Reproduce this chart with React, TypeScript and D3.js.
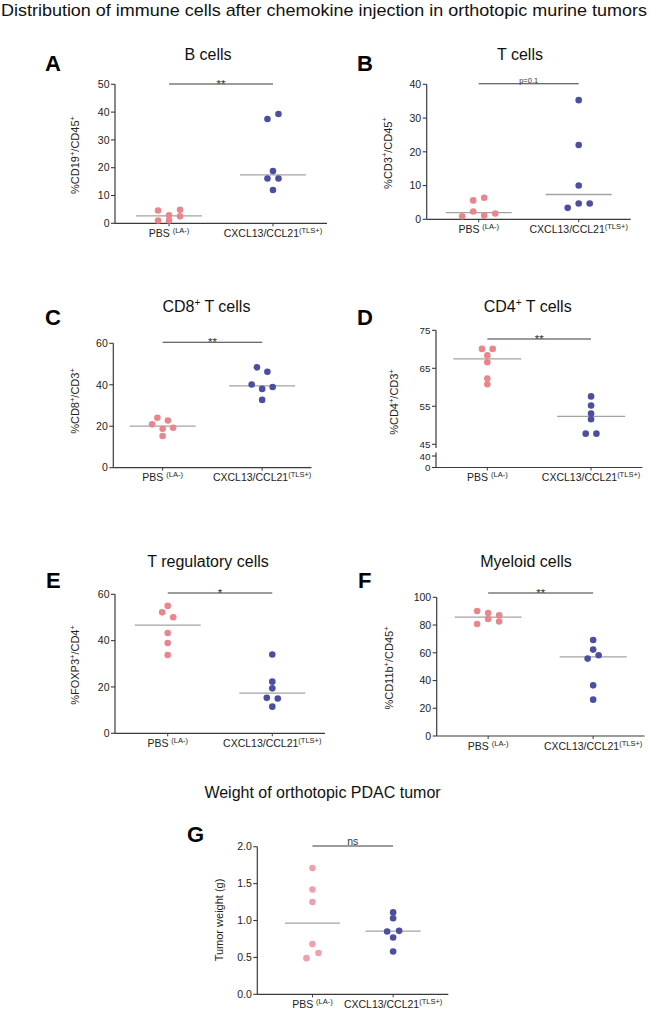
import React from "react";
import * as d3 from "d3";

// ---------- data ----------
const groups = ["PBS", "CXCL13/CCL21"];
const groupSup = ["(LA-)", "(TLS+)"];
const groupGap = [" ", ""];

const bCellsPBS = [4.6, 2.9, 4.9, 1.0, 1.0, 2.5];
const bCellsTLS = [37.5, 39.3, 18.8, 16.1, 16.1, 12.0];
const tCellsPBS = [5.6, 6.4, 0.9, 2.3, 1.1, 1.7];
const tCellsTLS = [35.3, 22.0, 10.0, 3.4, 4.7, 4.7];
const cd8PBS = [24.1, 22.8, 20.9, 18.8, 19.3, 15.3];
const cd8TLS = [48.4, 46.3, 40.1, 38.0, 38.9, 32.7];
const cd4PBS = [70.1, 70.1, 68.4, 66.6, 62.3, 60.8];
const cd4TLS = [57.6, 55.2, 53.1, 51.6, 47.8, 47.8];
const tregPBS = [55.0, 52.2, 50.1, 43.3, 39.0, 33.8];
const tregTLS = [34.0, 22.3, 19.4, 15.3, 15.0, 11.5];
const myeloidPBS = [90.1, 88.7, 87.0, 80.8, 84.4, 82.5];
const myeloidTLS = [69.2, 62.3, 55.8, 58.2, 36.5, 26.2];
const weightPBS = [1.71, 1.42, 1.25, 0.68, 0.49, 0.56];
const weightTLS = [1.11, 1.03, 0.85, 0.86, 0.77, 0.58];

const bTicks = [0, 10, 20, 30, 40, 50];
const tTicks = [0, 10, 20, 30, 40];
const cd8Ticks = [0, 20, 40, 60];
const cd4Ticks = [0, 40, 45, 55, 65, 75];
const tregTicks = [0, 20, 40, 60];
const myeloidTicks = [0, 20, 40, 60, 80, 100];
const weightTicks = [0, 0.5, 1.0, 1.5, 2.0];

const sigLabels = ["**", "p=0.1", "**", "**", "*", "**", "ns"];

const mainTitle = "Distribution of immune cells after chemokine injection in orthotopic murine tumors";
const weightTitle = "Weight of orthotopic PDAC tumor";

type Part = { t: string; sup?: boolean };

// ---------- layout ----------
const FONT = "'Liberation Sans', Arial, Helvetica, sans-serif";
const PINK = "#E8868C";
const PINK_LIGHT = "#EEA1AA";
const BLUE = "#4C4F9F";
const AXIS = "#3a3a3a";
const MEDIAN = "#a3a3a3";

type PanelCfg = {
  letter: string; letterX: number; letterY: number;
  title: Part[]; titleX: number; titleY: number;
  yLabel: Part[]; yLabelX: number; yLabelY: number;
  pbs: number[]; tls: number[]; ticks: number[]; fmt: (v: number) => string;
  x0: number; x1: number; pad: number;
  yTop: number; yBottom: number; domain: [number, number];
  broken?: boolean;
  sig: string; sigY: number; step: number; medHalf: number; pbsColor: string;
};

const intFmt = d3.format("d");
const decFmt = d3.format(".1f");

const panels: PanelCfg[] = [
  {
    letter: "A", letterX: 45, letterY: 70.5,
    title: [{ t: "B cells" }], titleX: 208, titleY: 60,
    yLabel: [{ t: "%CD19" }, { t: "+", sup: true }, { t: "/CD45" }, { t: "+", sup: true }], yLabelX: 79.3, yLabelY: 155,
    pbs: bCellsPBS, tls: bCellsTLS, ticks: bTicks, fmt: intFmt,
    x0: 115, x1: 327, pad: 0.52, yTop: 84.3, yBottom: 223.3, domain: [0, 50],
    sig: sigLabels[0], sigY: 84, step: 11, medHalf: 33, pbsColor: PINK,
  },
  {
    letter: "B", letterX: 357, letterY: 70.5,
    title: [{ t: "T cells" }], titleX: 520, titleY: 60,
    yLabel: [{ t: "%CD3" }, { t: "+", sup: true }, { t: "/CD45" }, { t: "+", sup: true }], yLabelX: 391.7, yLabelY: 153,
    pbs: tCellsPBS, tls: tCellsTLS, ticks: tTicks, fmt: intFmt,
    x0: 426.7, x1: 630.7, pad: 0.52, yTop: 84.3, yBottom: 219.3, domain: [0, 40],
    sig: sigLabels[1], sigY: 83.7, step: 11, medHalf: 33, pbsColor: PINK,
  },
  {
    letter: "C", letterX: 45, letterY: 325,
    title: [{ t: "CD8" }, { t: "+", sup: true }, { t: " T cells" }], titleX: 206.4, titleY: 311.7,
    yLabel: [{ t: "%CD8" }, { t: "+", sup: true }, { t: "/CD3" }, { t: "+", sup: true }], yLabelX: 79.3, yLabelY: 401,
    pbs: cd8PBS, tls: cd8TLS, ticks: cd8Ticks, fmt: intFmt,
    x0: 113.3, x1: 311.5, pad: 0.496, yTop: 343.3, yBottom: 467.7, domain: [0, 60],
    sig: sigLabels[2], sigY: 342.3, step: 10.5, medHalf: 33, pbsColor: PINK,
  },
  {
    letter: "D", letterX: 357, letterY: 325,
    title: [{ t: "CD4" }, { t: "+", sup: true }, { t: " T cells" }], titleX: 527.7, titleY: 312,
    yLabel: [{ t: "%CD4" }, { t: "+", sup: true }, { t: "/CD3" }, { t: "+", sup: true }], yLabelX: 398.3, yLabelY: 402,
    pbs: cd4PBS, tls: cd4TLS, ticks: cd4Ticks, fmt: intFmt,
    x0: 436, x1: 642.4, pad: 0.495, yTop: 330.3, yBottom: 467.5, domain: [0, 75], broken: true,
    sig: sigLabels[3], sigY: 339, step: 10.7, medHalf: 34, pbsColor: PINK,
  },
  {
    letter: "E", letterX: 46, letterY: 588,
    title: [{ t: "T regulatory cells" }], titleX: 208, titleY: 567,
    yLabel: [{ t: "%FOXP3" }, { t: "+", sup: true }, { t: "/CD4" }, { t: "+", sup: true }], yLabelX: 79.3, yLabelY: 665,
    pbs: tregPBS, tls: tregTLS, ticks: tregTicks, fmt: intFmt,
    x0: 115, x1: 325, pad: 0.504, yTop: 594.3, yBottom: 733.3, domain: [0, 60],
    sig: sigLabels[4], sigY: 593, step: 11, medHalf: 33, pbsColor: PINK,
  },
  {
    letter: "F", letterX: 358, letterY: 588,
    title: [{ t: "Myeloid cells" }], titleX: 526, titleY: 567,
    yLabel: [{ t: "%CD11b" }, { t: "+", sup: true }, { t: "/CD45" }, { t: "+", sup: true }], yLabelX: 393.3, yLabelY: 668,
    pbs: myeloidPBS, tls: myeloidTLS, ticks: myeloidTicks, fmt: intFmt,
    x0: 436.7, x1: 644.6, pad: 0.49, yTop: 597.3, yBottom: 736, domain: [0, 100],
    sig: sigLabels[5], sigY: 593, step: 11, medHalf: 33.5, pbsColor: PINK,
  },
  {
    letter: "G", letterX: 187, letterY: 842,
    title: [], titleX: 0, titleY: 0,
    yLabel: [{ t: "Tumor weight (g)" }], yLabelX: 223.3, yLabelY: 920,
    pbs: weightPBS, tls: weightTLS, ticks: weightTicks, fmt: decFmt,
    x0: 257.3, x1: 448.3, pad: 0.684, yTop: 846.7, yBottom: 994.3, domain: [0, 2],
    sig: sigLabels[6], sigY: 846, step: 12, medHalf: 27.5, pbsColor: PINK_LIGHT,
  },
];

// rows of near-equal values are spread horizontally (scatter dot plot style)
function swarmOffsets(values: number[], y: (v: number) => number, step: number, threshold = 5.6) {
  const order = values.map((_, i) => i).sort((a, b) => values[b] - values[a]);
  const rows: { y0: number; members: number[] }[] = [];
  let cur: { y0: number; members: number[] } | null = null;
  for (const i of order) {
    const py = y(values[i]);
    if (cur && Math.abs(py - cur.y0) < threshold) cur.members.push(i);
    else { cur = { y0: py, members: [i] }; rows.push(cur); }
  }
  const off = new Array(values.length).fill(0);
  rows.forEach((r) => {
    const m = r.members.slice().sort((a, b) => a - b);
    m.forEach((i, k) => { off[i] = (k - (m.length - 1) / 2) * step; });
  });
  return off;
}

function Parts({ parts, size, supSize, rise }: { parts: Part[]; size: number; supSize: number; rise: number }) {
  const out: React.ReactNode[] = [];
  let raised = false;
  parts.forEach((p, i) => {
    if (p.sup) {
      out.push(<tspan key={i} fontSize={supSize} dy={raised ? 0 : -rise}>{p.t}</tspan>);
      raised = true;
    } else {
      out.push(<tspan key={i} fontSize={size} dy={raised ? rise : 0}>{p.t}</tspan>);
      raised = false;
    }
  });
  return <>{out}</>;
}

function Panel({ cfg }: { cfg: PanelCfg }) {
  const x = d3.scalePoint<string>().domain(groups).range([cfg.x0, cfg.x1]).padding(cfg.pad);
  let y: (v: number) => number;
  if (cfg.broken) {
    const upper = d3.scaleLinear().domain([45, 75]).range([444.3, cfg.yTop]);
    const lower = d3.scaleLinear().domain([0, 40]).range([cfg.yBottom, 456]);
    y = (v) => (v >= 45 ? upper(v) : lower(v));
  } else {
    const lin = d3.scaleLinear().domain(cfg.domain).range([cfg.yBottom, cfg.yTop]);
    y = (v) => lin(v);
  }
  const series = [cfg.pbs, cfg.tls];
  const colors = [cfg.pbsColor, BLUE];
  const cx0 = x(groups[0])!;
  const cx1 = x(groups[1])!;
  const isStar = cfg.sig.includes("*");
  const sigSize = isStar ? 11.5 : cfg.sig === "ns" ? 10.5 : 7.5;
  const sigBase = isStar ? cfg.sigY + 3.6 : cfg.sigY - 1;
  const tickSize = cfg.broken ? 9.8 : 10.5;

  return (
    <g>
      <text x={cfg.letterX} y={cfg.letterY} fontSize={22} fontWeight="bold" fill="#000">{cfg.letter}</text>
      {cfg.title.length > 0 && (
        <text x={cfg.titleX} y={cfg.titleY} fontSize={16} textAnchor="middle" fill="#111">
          <Parts parts={cfg.title} size={16} supSize={10} rise={6} />
        </text>
      )}
      <text transform={`translate(${cfg.yLabelX},${cfg.yLabelY}) rotate(-90)`} textAnchor="middle" dy="0.35em" fontSize={11} fill="#222">
        <Parts parts={cfg.yLabel} size={11} supSize={7.5} rise={4.5} />
      </text>

      {/* y axis */}
      {cfg.broken ? (
        <>
          <line x1={cfg.x0} x2={cfg.x0} y1={cfg.yTop} y2={448} stroke={AXIS} strokeWidth={1.2} />
          <line x1={cfg.x0} x2={cfg.x0} y1={452.5} y2={cfg.yBottom} stroke={AXIS} strokeWidth={1.2} />
        </>
      ) : (
        <line x1={cfg.x0} x2={cfg.x0} y1={cfg.yTop} y2={cfg.yBottom} stroke={AXIS} strokeWidth={1.2} />
      )}
      {cfg.ticks.map((t) => (
        <g key={t}>
          <line x1={cfg.x0 - 4} x2={cfg.x0} y1={y(t)} y2={y(t)} stroke={AXIS} strokeWidth={1.1} />
          <text x={cfg.x0 - 5.5} y={y(t)} dy="0.36em" textAnchor="end" fontSize={tickSize} fill="#222">{cfg.fmt(t)}</text>
        </g>
      ))}

      {/* x axis */}
      <line x1={cfg.x0} x2={cfg.x1} y1={cfg.yBottom} y2={cfg.yBottom} stroke={AXIS} strokeWidth={1.2} />
      {groups.map((g, i) => (
        <g key={g}>
          <line x1={x(g)!} x2={x(g)!} y1={cfg.yBottom} y2={cfg.yBottom + 3} stroke={AXIS} strokeWidth={1} />
          <text x={x(g)!} y={cfg.yBottom + 13.5} textAnchor="middle" fontSize={10.5} fill="#222">
            <tspan>{g + groupGap[i]}</tspan>
            <tspan fontSize={7.5} dy={-4}>{groupSup[i]}</tspan>
          </text>
        </g>
      ))}

      {/* significance */}
      <line x1={cx0} x2={cx1} y1={cfg.sigY} y2={cfg.sigY} stroke={AXIS} strokeWidth={1.1} />
      <text x={(cx0 + cx1) / 2} y={sigBase} textAnchor="middle" fontSize={sigSize} fill="#333">{cfg.sig}</text>

      {/* points and medians */}
      {series.map((vals, si) => {
        const cx = x(groups[si])!;
        const off = swarmOffsets(vals, y, cfg.step);
        const med = d3.median(vals)!;
        return (
          <g key={si}>
            <line x1={cx - cfg.medHalf} x2={cx + cfg.medHalf} y1={y(med)} y2={y(med)} stroke={MEDIAN} strokeWidth={1.3} />
            {vals.map((v, i) => (
              <circle key={i} cx={cx + off[i]} cy={y(v)} r={3.3} fill={colors[si]} />
            ))}
          </g>
        );
      })}
    </g>
  );
}

export default function App() {
  return (
    <div style={{ position: "absolute", left: 0, top: 0 }}>
      <svg width={650} height={1015} style={{ display: "block", background: "#fff", fontFamily: FONT }}>
        <rect width={650} height={1015} fill="#fff" />
        <text x={1} y={16} fontSize={17} fill="#111" textLength={646} lengthAdjust="spacingAndGlyphs">{mainTitle}</text>
        <text x={322.5} y={798} fontSize={16} textAnchor="middle" fill="#111">{weightTitle}</text>
        {panels.map((p) => (
          <Panel key={p.letter} cfg={p} />
        ))}
      </svg>
    </div>
  );
}
